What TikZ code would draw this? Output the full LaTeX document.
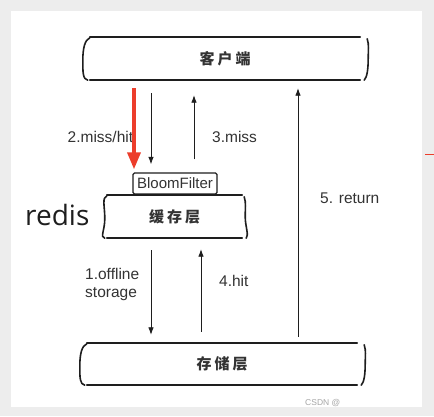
\documentclass[tikz,border=0pt]{standalone}
\usepackage{fontspec}
\setmainfont{Liberation Sans}
\newfontfamily\cjk[LetterSpace=20]{Noto Sans CJK SC}
\newfontfamily\redisfont{Open Sans}
\usepackage{tikz}
\usetikzlibrary{arrows,arrows.meta,calc,positioning}
\definecolor{rahmen}{HTML}{EDEDED}
\definecolor{pfeilrot}{HTML}{EC3D2B}
\definecolor{strich}{HTML}{1E1E1E}
\definecolor{schrift}{HTML}{333333}

\tikzset{
  layer/.style={minimum width=#1, minimum height=43pt, inner sep=0pt,
    font=\cjk\bfseries\fontsize{15}{18}\selectfont, text=schrift},
  layerline/.style={strich, line width=1.6pt, line cap=round},
  flow/.style={strich, line width=0.8pt, -{Latex[length=7.5pt,width=5.5pt]}},
  redflow/.style={pfeilrot, line width=3.5pt, -{Triangle[length=17pt,width=13pt]}},
  flowtext/.style={inner sep=0pt, anchor=base west, text=schrift,
    font=\fontsize{15.5}{18}\selectfont},
}

%Schicht mit Strichen oben/unten und geschweiften Seiten
\newcommand{\layerbox}[2][7pt]{%
  \draw[layerline] (#2.north west) -- (#2.north east);
  \draw[layerline] (#2.south west) -- (#2.south east);
  \draw[layerline] ([yshift=-1pt]#2.north west) .. controls +(-5pt,-2pt) and +(0pt,12pt) .. ([xshift=-#1,yshift=-2pt]#2.west) .. controls +(0pt,-12pt) and +(-5pt,1pt) .. ([xshift=-2pt]#2.south west);
  \draw[layerline] ([xshift=#1,yshift=-2pt]#2.north east) .. controls +(2pt,-6pt) and +(0pt,8pt) .. ([xshift=#1+1pt]#2.east) .. controls +(0pt,-10pt) and +(3pt,3pt) .. ([xshift=4pt]#2.south east);
}

\begin{document}
\begin{tikzpicture}[x=1pt,y=-1pt]
\fill[rahmen] (0,0) rectangle (434,416);
\fill[white] (11,11) rectangle (422,407);
\useasboundingbox (0,0) rectangle (434,416);
%Schichten
\node[layer=270pt] (client) at (225,58.5) {客户端};
\node[layer=135pt] (cache) at (174.5,216.5) {缓存层};
\node[layer=270pt, minimum height=42pt] (storage) at (222,364) {存储层};
\node[draw=strich, line width=1.4pt, rounded corners=1.5pt, minimum width=84pt, minimum height=21pt,
  inner sep=1pt, text=schrift, font=\fontsize{15}{18}\selectfont] (bloom) at (175,183.5) {BloomFilter};
\layerbox{client}
\layerbox[2pt]{cache}
\layerbox{storage}
\node[anchor=base west, inner sep=0pt, font=\redisfont\fontsize{28}{32}\selectfont, text=strich] (redis) at (25,225) {redis};
%Spalten der Pfeile
\coordinate (colA) at (134,0);
\coordinate (colB) at (151,0);
\coordinate (colC) at (194,0);
\coordinate (colD) at (201,0);
\coordinate (colE) at (298,0);
\node[flowtext] (missHit) at (67.5,142) {2.miss/hit};
\node[flowtext] (miss) at (212,142) {3.miss};
\node[flowtext] (ret) at (320,203) {5. return};
\node[flowtext, anchor=north west, align=left] (offline) at (85,268) {1.offline\\storage};
\node[flowtext] (hit) at (219,286) {4.hit};
\draw[flow, shorten <=13pt, shorten >=8pt] (client.south -| colB) -- (bloom.north -| colB);
\draw[flow, shorten <=13pt, shorten >=15pt] (bloom.north -| colC) -- (client.south -| colC);
\draw[flow, shorten <=6pt, shorten >=8pt] (storage.north -| colE) -- (client.south -| colE);
\draw[flow, shorten <=12pt, shorten >=8pt] (cache.south -| colB) -- (storage.north -| colB);
\draw[flow, shorten <=11pt, shorten >=11pt] (storage.north -| colD) -- (cache.south -| colD);
\draw[redflow, shorten <=8pt, shorten >=3pt] (client.south -| colA) -- (bloom.north -| colA);
\draw[pfeilrot, line width=0.8pt] (425,154) -- (434,154);
\node[anchor=base west, inner sep=0pt, text=gray!70, font=\fontsize{8.5}{10}\selectfont] (mark) at (305,405) {CSDN @};
\end{tikzpicture}
\end{document}
